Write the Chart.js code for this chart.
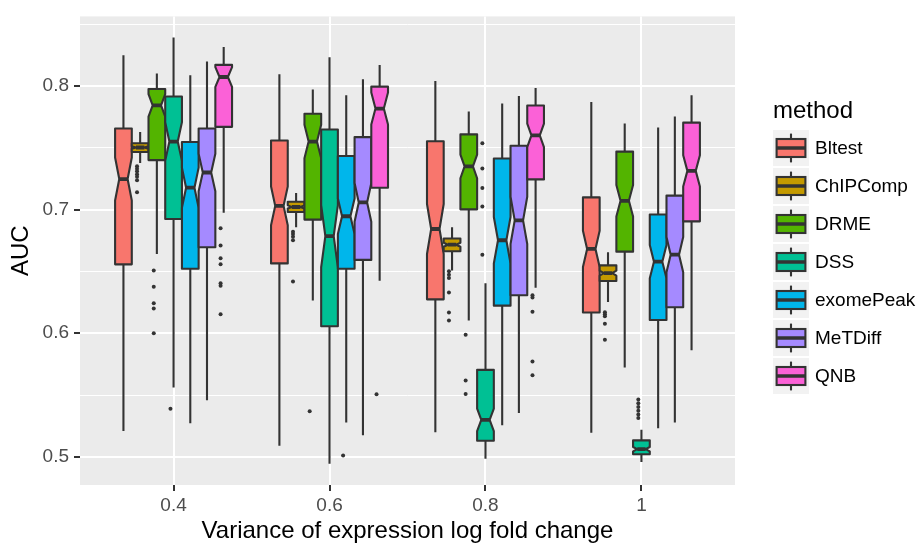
<!DOCTYPE html>
<html>
<head>
<meta charset="utf-8">
<script src="https://cdn.jsdelivr.net/npm/chart.js@4.4.0/dist/chart.umd.min.js"></script>
<style>
  html, body { margin: 0; padding: 0; background: #fff; }
  #wrap { width: 921px; height: 543px; }
</style>
</head>
<body>
<div id="wrap"><canvas id="auc-chart" width="921" height="543"></canvas></div>
<script>
// categories on the x axis and the methods (dodged boxes)
const xLabels = ['0.4', '0.6', '0.8', '1'];
const methods = ['Bltest', 'ChIPComp', 'DRME', 'DSS', 'exomePeak', 'MeTDiff', 'QNB'];
const colors = ['#F8766D', '#C49A00', '#53B400', '#00C094', '#00B6EB', '#A58AFF', '#FB61D7'];

// y axis ticks (majors get a label, the others are minor grid lines)
const yGridValues = [0.5, 0.55, 0.6, 0.65, 0.7, 0.75, 0.8, 0.85];
const yTickLabels = { 0.5: '0.5', 0.6: '0.6', 0.7: '0.7', 0.8: '0.8' };

// box statistics, one row per method, one column per category
const whiskerLow = [
  [0.521, 0.509, 0.520, 0.5195],
  [0.7377, 0.6857, 0.6507, 0.6253],
  [0.664, 0.6265, 0.6104, 0.5723],
  [0.5562, 0.4945, 0.4986, 0.4958],
  [0.5273, 0.5278, 0.5256, 0.5231],
  [0.5459, 0.5175, 0.5356, 0.5278],
  [0.6974, 0.6424, 0.6368, 0.5862]
];
const q1 = [
  [0.6557, 0.6565, 0.6274, 0.6168],
  [0.7466, 0.698, 0.6663, 0.6422],
  [0.740, 0.6919, 0.7002, 0.666],
  [0.6924, 0.6057, 0.5131, 0.5022],
  [0.6521, 0.6521, 0.6223, 0.6107],
  [0.6696, 0.6593, 0.6307, 0.621],
  [0.7669, 0.7177, 0.7244, 0.6905]
];
const medians = [
  [0.7247, 0.703, 0.6843, 0.6682],
  [0.7502, 0.7021, 0.6716, 0.6486],
  [0.7842, 0.755, 0.7349, 0.7071],
  [0.755, 0.6785, 0.530, 0.5063],
  [0.7177, 0.6946, 0.6752, 0.6579],
  [0.730, 0.7058, 0.6913, 0.6635],
  [0.8072, 0.7817, 0.760, 0.7313]
];
const q3 = [
  [0.7655, 0.7558, 0.7552, 0.7099],
  [0.7536, 0.7063, 0.6766, 0.6549],
  [0.7975, 0.7775, 0.7608, 0.7469],
  [0.7914, 0.7647, 0.5704, 0.5134],
  [0.7547, 0.7433, 0.7413, 0.696],
  [0.7655, 0.7586, 0.7516, 0.7113],
  [0.817, 0.7994, 0.7842, 0.7703]
];
const whiskerHigh = [
  [0.8247, 0.8095, 0.8039, 0.7869],
  [0.7627, 0.7135, 0.6857, 0.6654],
  [0.810, 0.797, 0.7794, 0.7697],
  [0.8392, 0.8231, 0.6404, 0.522],
  [0.8086, 0.7925, 0.7858, 0.7664],
  [0.8197, 0.8053, 0.7919, 0.7752],
  [0.8314, 0.817, 0.7983, 0.7925]
];
const outliers = [
  [[], [], [], []],
  [[0.735, 0.733, 0.731, 0.7286, 0.7266, 0.7238, 0.714],
   [0.6821, 0.6802, 0.678, 0.6752, 0.6418],
   [0.6502, 0.6474, 0.6446, 0.6329, 0.6168, 0.6104],
   [0.617, 0.6154, 0.6138, 0.6076, 0.5948]],
  [[0.6507, 0.6376, 0.6243, 0.6201, 0.6001], [0.537], [0.5987, 0.5617, 0.5509], []],
  [[0.5389], [], [0.7536, 0.7333, 0.7174, 0.7024, 0.6635],
   [0.5464, 0.5434, 0.5404, 0.5374, 0.5344, 0.5314]],
  [[], [0.5011], [], []],
  [[], [], [], []],
  [[0.6849, 0.671, 0.6607, 0.6557, 0.6404, 0.6385, 0.6154], [0.5506],
   [0.6307, 0.629, 0.6173, 0.5771, 0.566], []]
];
const sampleSize = 100; // runs per box, used for the notch width

const dodge = 0.75 / methods.length;
const outlierShift = -0.02;
const boxCenter = (m, c) => c + 1 + (m - (methods.length - 1) / 2) * dodge;

Chart.defaults.font.family = "'Liberation Sans', Arial, sans-serif";

// grey panel behind the grid
const panelBg = {
  id: 'panelBg',
  beforeDraw(chart) {
    const { ctx, chartArea: a } = chart;
    ctx.save();
    ctx.fillStyle = '#EBEBEB';
    ctx.fillRect(a.left, a.top, a.right - a.left, a.bottom - a.top);
    ctx.restore();
  }
};

// notched boxes + whiskers, drawn through the chart scales
const boxes = {
  id: 'boxes',
  beforeDatasetsDraw(chart) {
    const { ctx, chartArea: a, scales: { x, y } } = chart;
    ctx.save();
    ctx.beginPath();
    ctx.rect(a.left, a.top, a.right - a.left, a.bottom - a.top);
    ctx.clip();
    ctx.lineJoin = 'round';
    for (let c = 0; c < xLabels.length; c++) {
      for (let m = 0; m < methods.length; m++) {
        const xc = x.getPixelForValue(boxCenter(m, c));
        const xl = x.getPixelForValue(boxCenter(m, c) - dodge / 2);
        const xr = x.getPixelForValue(boxCenter(m, c) + dodge / 2);
        const indent = (xr - xl) * 0.25;
        const lo = q1[m][c], hi = q3[m][c], med = medians[m][c];
        const nh = 1.58 * (hi - lo) / Math.sqrt(sampleSize);
        const yHi = y.getPixelForValue(hi), yLo = y.getPixelForValue(lo);
        const yMed = y.getPixelForValue(med);
        const yNu = y.getPixelForValue(med + nh), yNl = y.getPixelForValue(med - nh);

        ctx.strokeStyle = '#333333';
        ctx.lineWidth = 2.1;
        ctx.beginPath();
        ctx.moveTo(xc, y.getPixelForValue(whiskerHigh[m][c]));
        ctx.lineTo(xc, yHi);
        ctx.moveTo(xc, yLo);
        ctx.lineTo(xc, y.getPixelForValue(whiskerLow[m][c]));
        ctx.stroke();

        ctx.beginPath();
        ctx.moveTo(xl, yHi);
        ctx.lineTo(xl, yNu);
        ctx.lineTo(xl + indent, yMed);
        ctx.lineTo(xl, yNl);
        ctx.lineTo(xl, yLo);
        ctx.lineTo(xr, yLo);
        ctx.lineTo(xr, yNl);
        ctx.lineTo(xr - indent, yMed);
        ctx.lineTo(xr, yNu);
        ctx.lineTo(xr, yHi);
        ctx.closePath();
        ctx.fillStyle = colors[m];
        ctx.fill();
        ctx.stroke();

        ctx.lineWidth = 3.8;
        ctx.beginPath();
        ctx.moveTo(xl + indent, yMed);
        ctx.lineTo(xr - indent, yMed);
        ctx.stroke();
      }
    }
    ctx.restore();
  }
};

// ggplot style legend with boxplot keys
const boxLegend = {
  id: 'boxLegend',
  afterDraw(chart) {
    const { ctx } = chart;
    const left = 773, first = 130, size = 36, step = 38;
    ctx.save();
    ctx.fillStyle = '#000';
    ctx.font = "24px 'Liberation Sans', Arial, sans-serif";
    ctx.textBaseline = 'alphabetic';
    ctx.fillText('method', left, 118);
    methods.forEach((name, i) => {
      const top = first + i * step;
      ctx.fillStyle = '#F2F2F2';
      ctx.fillRect(left, top, size, size);
      const cx = left + size / 2;
      ctx.strokeStyle = '#333333';
      ctx.lineWidth = 2.1;
      ctx.beginPath();
      ctx.moveTo(cx, top + size * 0.1);
      ctx.lineTo(cx, top + size * 0.9);
      ctx.stroke();
      ctx.fillStyle = colors[i];
      ctx.fillRect(left + size * 0.1, top + size * 0.25, size * 0.8, size * 0.5);
      ctx.strokeRect(left + size * 0.1, top + size * 0.25, size * 0.8, size * 0.5);
      ctx.lineWidth = 3.5;
      ctx.beginPath();
      ctx.moveTo(left + size * 0.1, top + size / 2);
      ctx.lineTo(left + size * 0.9, top + size / 2);
      ctx.stroke();
      ctx.fillStyle = '#000';
      ctx.font = "19px 'Liberation Sans', Arial, sans-serif";
      ctx.textBaseline = 'middle';
      ctx.fillText(name, left + size + 6, top + size / 2 + 1);
    });
    ctx.restore();
  }
};

// outlier points, one scatter dataset per method
const datasets = methods.map((name, m) => ({
  label: name,
  data: outliers[m].flatMap((vals, c) => vals.map(v => ({ x: boxCenter(m, c) + outlierShift, y: v }))),
  pointRadius: 2,
  pointHoverRadius: 2,
  pointBackgroundColor: '#333333',
  pointBorderWidth: 0,
  showLine: false
}));

const ctx = document.getElementById('auc-chart').getContext('2d');
new Chart(ctx, {
  type: 'scatter',
  data: { datasets },
  plugins: [panelBg, boxes, boxLegend],
  options: {
    responsive: false,
    devicePixelRatio: 1,
    animation: false,
    layout: { padding: { top: 13, right: 186, left: 0, bottom: 0 } },
    plugins: { legend: { display: false }, tooltip: { enabled: false } },
    scales: {
      x: {
        type: 'linear',
        min: 0.4,
        max: 4.6,
        afterBuildTicks: s => { s.ticks = xLabels.map((_, i) => ({ value: i + 1 })); },
        afterFit: s => { s.height = 58; },
        border: { display: false },
        grid: { color: '#FFFFFF', lineWidth: 2, tickLength: 6, tickColor: '#333333', tickWidth: 2 },
        ticks: {
          autoSkip: false, maxRotation: 0, padding: 3, color: '#4D4D4D',
          font: { size: 19 },
          callback: v => xLabels[v - 1]
        },
        title: {
          display: true, text: 'Variance of expression log fold change', color: '#000',
          font: { size: 24, lineHeight: 1 }, padding: 0
        }
      },
      y: {
        min: 0.4773,
        max: 0.8562,
        afterBuildTicks: s => { s.ticks = yGridValues.map(v => ({ value: v })); },
        afterFit: s => { s.width = 80; },
        border: { display: false },
        grid: {
          color: '#FFFFFF',
          lineWidth: c => (yTickLabels[c.tick.value] ? 2 : 1),
          tickLength: 6,
          tickWidth: 2,
          tickColor: c => (yTickLabels[c.tick.value] ? '#333333' : 'rgba(0,0,0,0)')
        },
        ticks: {
          autoSkip: false, padding: 5, color: '#4D4D4D',
          font: { size: 19 },
          callback: v => yTickLabels[v] || ''
        },
        title: {
          display: true, text: 'AUC', color: '#000',
          font: { size: 24, lineHeight: 1 }, padding: { top: 9, bottom: 0 }
        }
      }
    }
  }
});
</script>
</body>
</html>
